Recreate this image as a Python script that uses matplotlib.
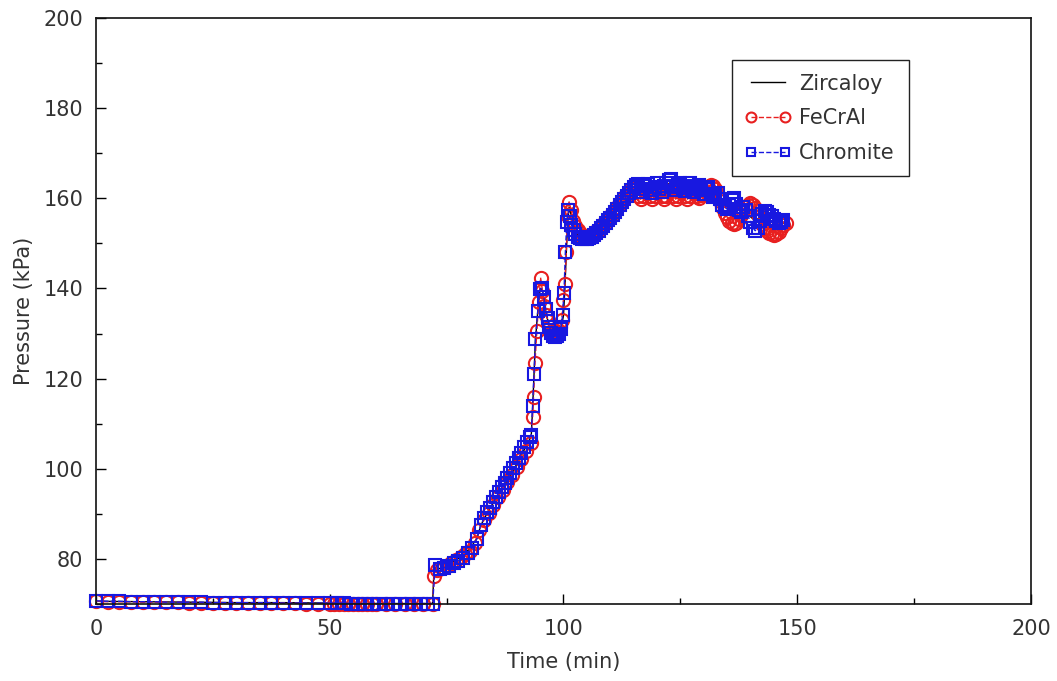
import matplotlib
matplotlib.use("Agg")
import matplotlib.pyplot as plt
from matplotlib.ticker import MultipleLocator

# Zircaloy (reference line)
zr_t = [0, 10, 20, 30, 40, 50, 60, 72, 72.3, 74, 76, 78, 80, 81.5, 82.3, 84, 86, 88, 90, 92, 93.1,
        93.4, 93.7, 94, 94.5, 95, 95.5, 96, 96.5, 97, 97.5, 98, 98.5, 99, 99.5, 100, 100.3, 100.6,
        100.9, 101.2, 101.6, 102.2, 103, 104, 105, 107, 109, 111, 113, 115, 116, 118, 120, 122,
        123, 125, 127, 129, 131, 133, 135, 137, 139, 141, 143, 145, 147]
zr_p = [70.6, 70.5, 70.4, 70.3, 70.3, 70.2, 70.1, 70.1, 77.5, 78.0, 79.1, 80.4, 82.3, 84.6, 87.4,
        90.8, 94.1, 97.4, 101.0, 105.0, 107.2, 113.5, 121.0, 128.5, 135.0, 140.0, 139.5, 136.0,
        133.5, 131.5, 130.2, 129.6, 129.6, 130.2, 131.2, 134.0, 140.0, 148.0, 154.7, 158.0, 156.5,
        154.0, 152.0, 151.2, 151.3, 152.3, 154.2, 156.5, 159.2, 162.0, 162.8, 162.5, 162.8, 163.0,
        163.5, 162.8, 162.6, 162.2, 161.6, 160.5, 158.5, 158.8, 156.8, 155.0, 156.5, 155.3, 154.5]

# FeCrAl
fe_t_flat = [0, 2.5, 5, 7.5, 10, 12.5, 15, 17.5, 20, 22.5, 25, 27.5, 30, 32.5, 35, 37.5, 40,
             42.5, 45, 47.5, 50, 51, 52, 53, 54, 55, 56, 57, 58, 59, 60, 62, 64, 66, 68, 70, 72]
fe_p_flat = [70.6, 70.5, 70.5, 70.5, 70.4, 70.4, 70.4, 70.4, 70.3, 70.3, 70.3, 70.3, 70.2, 70.2,
             70.2, 70.2, 70.2, 70.2, 70.1, 70.1, 70.1, 70.1, 70.1, 70.1, 70.1, 70.1, 70.1, 70.0,
             70.0, 70.0, 70.0, 70.0, 70.0, 70.0, 70.0, 70.0, 70.0]
fe_t_rise = [72.3, 73, 74, 75, 76, 77, 78, 79, 80, 81, 82, 83, 84, 85, 86, 87, 88, 89, 90, 91, 92, 93]
fe_p_rise = [76.3, 77.5, 78.0, 78.5, 79.2, 79.8, 80.4, 81.0, 81.8, 83.5, 86.5, 88.6, 90.2, 92.0,
             93.7, 95.3, 97.0, 98.6, 100.3, 102.2, 104.0, 105.8]
fe_t_spike = [93.4, 93.6, 93.9, 94.3, 94.7, 95.1, 95.5, 95.9, 96.3, 96.7, 97.2, 97.7, 98.2, 98.7,
              99.2, 99.6, 100, 100.3, 100.6, 100.9, 101.2, 101.6, 102.1]
fe_p_spike = [111.5, 116.0, 123.5, 130.5, 137.0, 142.4, 139.5, 136.0, 134.0, 132.8, 131.5, 130.8,
              130.5, 131.0, 131.5, 133.0, 137.5, 141.0, 148.0, 156.0, 159.2, 157.5, 155.0]
fe_t_top = [102.5, 103, 103.5, 104, 104.5, 105, 105.5, 106, 106.5, 107,
            107.5, 108, 108.5, 109, 109.5, 110, 110.5, 111, 111.5, 112,
            112.5, 113, 113.5, 114, 114.5, 115, 115.5, 116, 116.5, 117,
            117.5, 118, 118.5, 119, 119.5, 120, 120.5, 121, 121.5, 122,
            122.5, 123, 123.5, 124, 124.5, 125, 125.5, 126, 126.5, 127,
            127.5, 128, 128.5, 129, 129.5, 130, 130.5, 131, 131.5, 132,
            132.5, 133, 133.5, 134, 134.5, 135, 135.5, 136, 136.5, 137,
            137.5, 138, 138.5, 139, 139.5, 140, 140.5, 141, 141.5, 142,
            142.5, 143, 143.5, 144, 144.5, 145, 145.5, 146, 146.5, 147,
            147.5]
fe_p_top = [153.8, 153.0, 152.2, 151.7, 151.4, 151.4, 151.6, 151.9, 152.3, 152.7,
            153.2, 153.7, 154.3, 154.9, 155.5, 156.1, 156.8, 157.4, 158.1, 158.8,
            159.5, 160.2, 160.9, 161.5, 162.0, 162.2, 161.5, 160.5, 159.8, 160.4,
            161.5, 161.8, 160.6, 159.8, 160.5, 161.6, 161.7, 160.4, 159.9, 160.6,
            161.7, 161.8, 160.5, 159.8, 160.5, 161.5, 161.6, 160.4, 159.8, 160.5,
            161.4, 161.5, 160.4, 160.0, 160.8, 161.6, 162.2, 162.6, 163.0, 162.8,
            162.0, 160.8, 159.5, 158.0, 156.8, 155.8, 155.0, 154.6, 154.4, 154.6,
            155.3, 156.2, 157.2, 158.0, 158.6, 158.9, 158.6, 157.8, 156.6, 155.4,
            154.3, 153.4, 152.8, 152.3, 152.0, 151.9, 152.1, 152.6, 153.3, 154.0,
            154.6]

# Chromite
cr_t_flat = [0, 2.5, 5, 7.5, 10, 12.5, 15, 17.5, 20, 22.5, 25, 27.5, 30, 32.5, 35, 37.5, 40,
             42.5, 45, 47.5, 50, 51.5, 53, 54.5, 56, 57.5, 59, 60.5, 62, 63.5, 65, 66.5, 68,
             69.5, 71, 72]
cr_p_flat = [70.7, 70.6, 70.6, 70.5, 70.5, 70.5, 70.4, 70.4, 70.4, 70.4, 70.3, 70.3, 70.3, 70.3,
             70.3, 70.3, 70.2, 70.2, 70.2, 70.2, 70.2, 70.2, 70.2, 70.1, 70.1, 70.1, 70.1, 70.1,
             70.1, 70.1, 70.1, 70.1, 70.1, 70.1, 70.1, 70.1]
cr_t_rise = [72.6, 73.5, 74.5, 75.5, 76.5, 77.5, 78.5, 79.5, 80.5, 81.5, 82.3, 83, 83.7, 84.3,
             85, 85.6, 86.2, 86.8, 87.4, 88, 88.6, 89.2, 89.8, 90.4, 91, 91.6, 92.2, 92.8, 93.1]
cr_p_rise = [78.7, 77.8, 78.0, 78.5, 79.0, 79.6, 80.3, 81.2, 82.5, 84.5, 87.6, 89.0, 90.3, 91.4,
             92.6, 93.7, 94.8, 95.9, 96.9, 97.9, 99.0, 100.1, 101.2, 102.4, 103.6, 104.8, 106.0,
             107.1, 107.4]
cr_t_spike = [93.4, 93.7, 94, 94.5, 95, 95.4, 95.8, 96.2, 96.6, 97, 97.4, 97.8, 98.2, 98.6, 99,
              99.4, 99.8, 100.1, 100.4, 100.7, 101, 101.3, 101.7, 102.2]
cr_p_spike = [114.0, 121.0, 128.7, 135.0, 139.8, 140.0, 138.0, 135.5, 133.5, 131.5, 130.2, 129.5,
              129.3, 129.5, 130.0, 131.0, 134.0, 139.0, 148.0, 154.7, 157.5, 156.0, 154.0, 153.0]
cr_t_top = [102.5, 103, 103.5, 104, 104.5, 105, 105.5, 106, 106.5, 107,
            107.5, 108, 108.5, 109, 109.5, 110, 110.5, 111, 111.5, 112,
            112.5, 113, 113.5, 114, 114.5, 115, 115.5, 116, 116.5, 117,
            117.5, 118, 118.5, 119, 119.5, 120, 120.5, 121, 121.5, 122,
            122.5, 123, 123.5, 124, 124.5, 125, 125.5, 126, 126.5, 127,
            127.5, 128, 128.5, 129, 129.5, 130, 130.5, 131, 131.5, 132,
            132.5, 133, 133.5, 134, 134.5, 135, 135.5, 136, 136.5, 137,
            137.5, 138, 138.5, 139, 139.5, 140, 140.5, 141, 141.5, 142,
            142.5, 143, 143.5, 144, 144.5, 145, 145.5, 146, 146.5, 147]
cr_p_top = [152.0, 151.5, 151.2, 151.0, 150.9, 151.0, 151.2, 151.5, 151.9, 152.3,
            152.8, 153.3, 153.9, 154.5, 155.1, 155.7, 156.4, 157.0, 157.7, 158.4,
            159.1, 159.8, 160.5, 161.2, 161.9, 162.5, 163.0, 163.2, 162.0, 161.4,
            162.8, 163.2, 161.8, 161.2, 162.6, 163.4, 162.0, 161.5, 162.8, 163.5,
            164.0, 164.2, 162.5, 161.8, 163.0, 163.5, 162.2, 161.6, 162.8, 163.3,
            162.0, 161.4, 162.5, 163.0, 161.8, 161.0, 162.0, 162.4, 161.0, 160.2,
            160.8, 161.2, 159.8, 158.6, 158.0, 157.6, 158.5, 159.6, 160.0, 158.8,
            157.5, 157.0, 158.0, 157.4, 156.0, 154.8, 153.5, 152.8, 153.5, 155.0,
            156.5, 157.2, 157.0, 156.4, 156.0, 155.5, 155.0, 154.5, 154.8, 155.2]

fe_t = fe_t_flat + fe_t_rise + fe_t_spike + fe_t_top
fe_p = fe_p_flat + fe_p_rise + fe_p_spike + fe_p_top
cr_t = cr_t_flat + cr_t_rise + cr_t_spike + cr_t_top
cr_p = cr_p_flat + cr_p_rise + cr_p_spike + cr_p_top

plt.rcParams["font.family"] = ["DejaVu Sans"]
text_color = "#333333"
red = "#e82020"
blue = "#1818e0"

fig = plt.figure(figsize=(10.57, 6.81), dpi=100)
ax = fig.add_axes([0.0908, 0.1131, 0.8846, 0.8605])

h_zr, = ax.plot(zr_t, zr_p, "-", color="black", lw=1.0, zorder=2, label="Zircaloy")
h_fe, = ax.plot(fe_t, fe_p, "--", color=red, lw=1.0, marker="o", ms=9.5,
                mfc="none", mec=red, mew=1.5, clip_on=False, zorder=3, label="FeCrAl")
h_cr, = ax.plot(cr_t, cr_p, "--", color=blue, lw=1.0, marker="s", ms=8.5,
                mfc="none", mec=blue, mew=1.5, clip_on=False, zorder=4, label="Chromite")

ax.set_xlim(0, 200)
ax.set_ylim(70, 200)
ax.xaxis.set_major_locator(MultipleLocator(50))
ax.xaxis.set_minor_locator(MultipleLocator(25))
ax.yaxis.set_minor_locator(MultipleLocator(10))
ax.set_yticks([80, 100, 120, 140, 160, 180, 200])
ax.tick_params(which="both", direction="in", top=False, right=False,
               labelsize=15, labelcolor=text_color, width=1.0)
ax.tick_params(which="major", length=7)
ax.tick_params(which="minor", length=4)
ax.tick_params(axis="x", pad=11)
ax.tick_params(axis="y", pad=9)
for s in ax.spines.values():
    s.set_linewidth(1.2)
    s.set_color("#111111")
    s.set_zorder(5)

ax.set_xlabel("Time (min)", fontsize=15, color=text_color, labelpad=9)
ax.set_ylabel("Pressure (kPa)", fontsize=15, color=text_color, labelpad=7)

leg = ax.legend([h_zr, h_fe, h_cr], ["Zircaloy", "FeCrAl", "Chromite"],
                loc="upper right", bbox_to_anchor=(0.869, 0.928), fontsize=15,
                fancybox=False, edgecolor="#222222", framealpha=1, numpoints=2,
                handlelength=2.2, handletextpad=0.4, borderpad=0.65, labelspacing=0.7,
                markerscale=0.75, borderaxespad=0)
leg.get_frame().set_linewidth(1.0)
leg.set_zorder(6)
for t in leg.get_texts():
    t.set_color(text_color)

fig.savefig("out.png", dpi=100)
